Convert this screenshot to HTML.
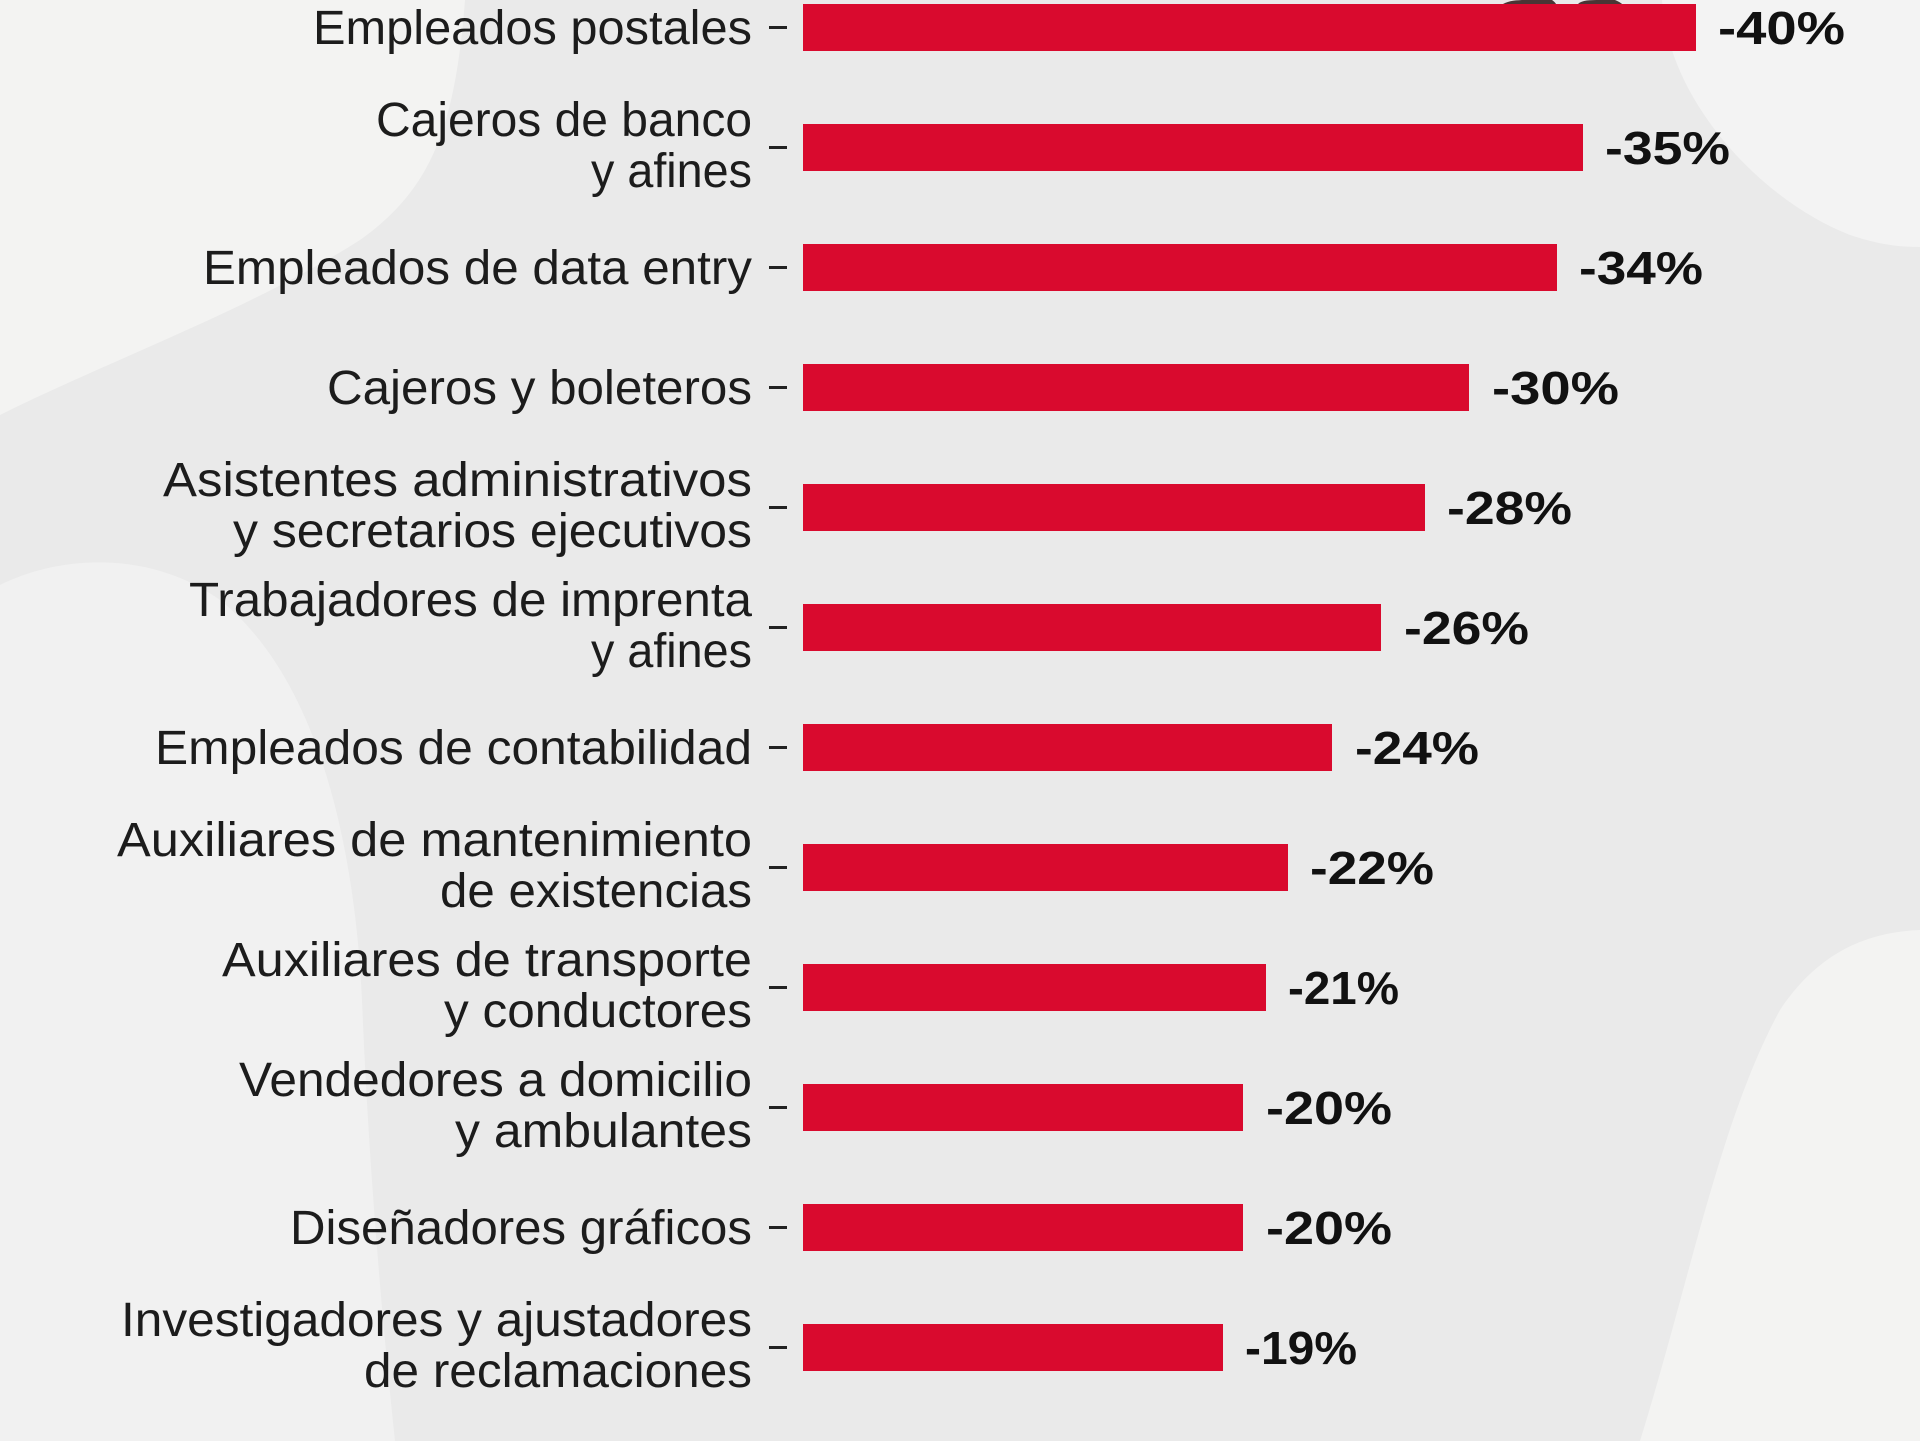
<!DOCTYPE html>
<html>
<head>
<meta charset="utf-8">
<style>
  html, body { margin:0; padding:0; background:#ebebeb; }
  body { width:1920px; height:1441px; overflow:hidden; }
  svg { display:block; }
  .lab { font-family:"Liberation Sans", Arial, sans-serif; font-size:48px; fill:#1c1c1c; }
  .pct { font-family:"Liberation Sans", Arial, sans-serif; font-size:46px; font-weight:bold; fill:#111; }
</style>
</head>
<body>
<svg width="1920" height="1441" viewBox="0 0 1920 1441" xmlns="http://www.w3.org/2000/svg">
  <rect x="0" y="0" width="1920" height="1441" fill="#eaeaea"/>
  <!-- background blobs -->
  <path d="M0 0 H465 C455 130 430 190 360 240 C250 310 110 360 0 415 Z" fill="#f3f3f2"/>
  <path d="M1662 0 C1668 100 1760 200 1850 235 C1880 245 1900 247 1920 247 V0 Z" fill="#f3f3f3"/>
  <path d="M0 585 C60 555 150 550 220 600 C320 680 355 850 362 1000 C368 1150 380 1300 395 1441 H0 Z" fill="#f1f1f1"/>
  <path d="M1640 1441 C1690 1280 1720 1120 1780 1010 C1820 950 1870 932 1920 930 V1441 Z" fill="#f3f3f2"/>
  <!-- dark shapes peeking at top -->
  <path d="M1503 4 C1510 0 1520 0 1530 0 H1552 C1555 2 1556 4 1556 4 Z" fill="#4a3535"/>
  <path d="M1578 4 C1582 0 1590 0 1600 0 H1615 C1620 2 1622 4 1622 4 Z" fill="#4a3535"/>

  <!-- bars -->
  <g fill="#d90a2e">
    <rect x="803" y="4" width="893" height="47"/>
    <rect x="803" y="124" width="780" height="47"/>
    <rect x="803" y="244" width="754" height="47"/>
    <rect x="803" y="364" width="666" height="47"/>
    <rect x="803" y="484" width="622" height="47"/>
    <rect x="803" y="604" width="578" height="47"/>
    <rect x="803" y="724" width="529" height="47"/>
    <rect x="803" y="844" width="485" height="47"/>
    <rect x="803" y="964" width="463" height="47"/>
    <rect x="803" y="1084" width="440" height="47"/>
    <rect x="803" y="1204" width="440" height="47"/>
    <rect x="803" y="1324" width="420" height="47"/>
  </g>

  <!-- tick dashes -->
  <g fill="#222">
    <rect x="769" y="26" width="18" height="3"/>
    <rect x="769" y="146" width="18" height="3"/>
    <rect x="769" y="266" width="18" height="3"/>
    <rect x="769" y="386" width="18" height="3"/>
    <rect x="769" y="506" width="18" height="3"/>
    <rect x="769" y="626" width="18" height="3"/>
    <rect x="769" y="746" width="18" height="3"/>
    <rect x="769" y="866" width="18" height="3"/>
    <rect x="769" y="986" width="18" height="3"/>
    <rect x="769" y="1106" width="18" height="3"/>
    <rect x="769" y="1226" width="18" height="3"/>
    <rect x="769" y="1346" width="18" height="3"/>
  </g>

  <!-- labels -->
  <g class="lab">
    <text x="313" y="44" textLength="439" lengthAdjust="spacingAndGlyphs">Empleados postales</text>

    <text x="376" y="136" textLength="376" lengthAdjust="spacingAndGlyphs">Cajeros de banco</text>
    <text x="591" y="187" textLength="161" lengthAdjust="spacingAndGlyphs">y afines</text>

    <text x="203" y="284" textLength="549" lengthAdjust="spacingAndGlyphs">Empleados de data entry</text>

    <text x="327" y="404" textLength="425" lengthAdjust="spacingAndGlyphs">Cajeros y boleteros</text>

    <text x="163" y="496" textLength="589" lengthAdjust="spacingAndGlyphs">Asistentes administrativos</text>
    <text x="233" y="547" textLength="519" lengthAdjust="spacingAndGlyphs">y secretarios ejecutivos</text>

    <text x="189" y="616" textLength="563" lengthAdjust="spacingAndGlyphs">Trabajadores de imprenta</text>
    <text x="591" y="667" textLength="161" lengthAdjust="spacingAndGlyphs">y afines</text>

    <text x="155" y="764" textLength="597" lengthAdjust="spacingAndGlyphs">Empleados de contabilidad</text>

    <text x="117" y="856" textLength="635" lengthAdjust="spacingAndGlyphs">Auxiliares de mantenimiento</text>
    <text x="440" y="907" textLength="312" lengthAdjust="spacingAndGlyphs">de existencias</text>

    <text x="222" y="976" textLength="530" lengthAdjust="spacingAndGlyphs">Auxiliares de transporte</text>
    <text x="444" y="1027" textLength="308" lengthAdjust="spacingAndGlyphs">y conductores</text>

    <text x="239" y="1096" textLength="513" lengthAdjust="spacingAndGlyphs">Vendedores a domicilio</text>
    <text x="455" y="1147" textLength="297" lengthAdjust="spacingAndGlyphs">y ambulantes</text>

    <text x="290" y="1244" textLength="462" lengthAdjust="spacingAndGlyphs">Diseñadores gráficos</text>

    <text x="121" y="1336" textLength="631" lengthAdjust="spacingAndGlyphs">Investigadores y ajustadores</text>
    <text x="364" y="1387" textLength="388" lengthAdjust="spacingAndGlyphs">de reclamaciones</text>
  </g>

  <!-- percentages -->
  <g class="pct">
    <text x="1718" y="44" textLength="127" lengthAdjust="spacingAndGlyphs">-40%</text>
    <text x="1605" y="164" textLength="125" lengthAdjust="spacingAndGlyphs">-35%</text>
    <text x="1579" y="284" textLength="124" lengthAdjust="spacingAndGlyphs">-34%</text>
    <text x="1492" y="404" textLength="127" lengthAdjust="spacingAndGlyphs">-30%</text>
    <text x="1447" y="524" textLength="125" lengthAdjust="spacingAndGlyphs">-28%</text>
    <text x="1404" y="644" textLength="125" lengthAdjust="spacingAndGlyphs">-26%</text>
    <text x="1355" y="764" textLength="124" lengthAdjust="spacingAndGlyphs">-24%</text>
    <text x="1310" y="884" textLength="124" lengthAdjust="spacingAndGlyphs">-22%</text>
    <text x="1288" y="1004" textLength="111" lengthAdjust="spacingAndGlyphs">-21%</text>
    <text x="1266" y="1124" textLength="126" lengthAdjust="spacingAndGlyphs">-20%</text>
    <text x="1266" y="1244" textLength="126" lengthAdjust="spacingAndGlyphs">-20%</text>
    <text x="1245" y="1364" textLength="112" lengthAdjust="spacingAndGlyphs">-19%</text>
  </g>
</svg>
</body>
</html>
